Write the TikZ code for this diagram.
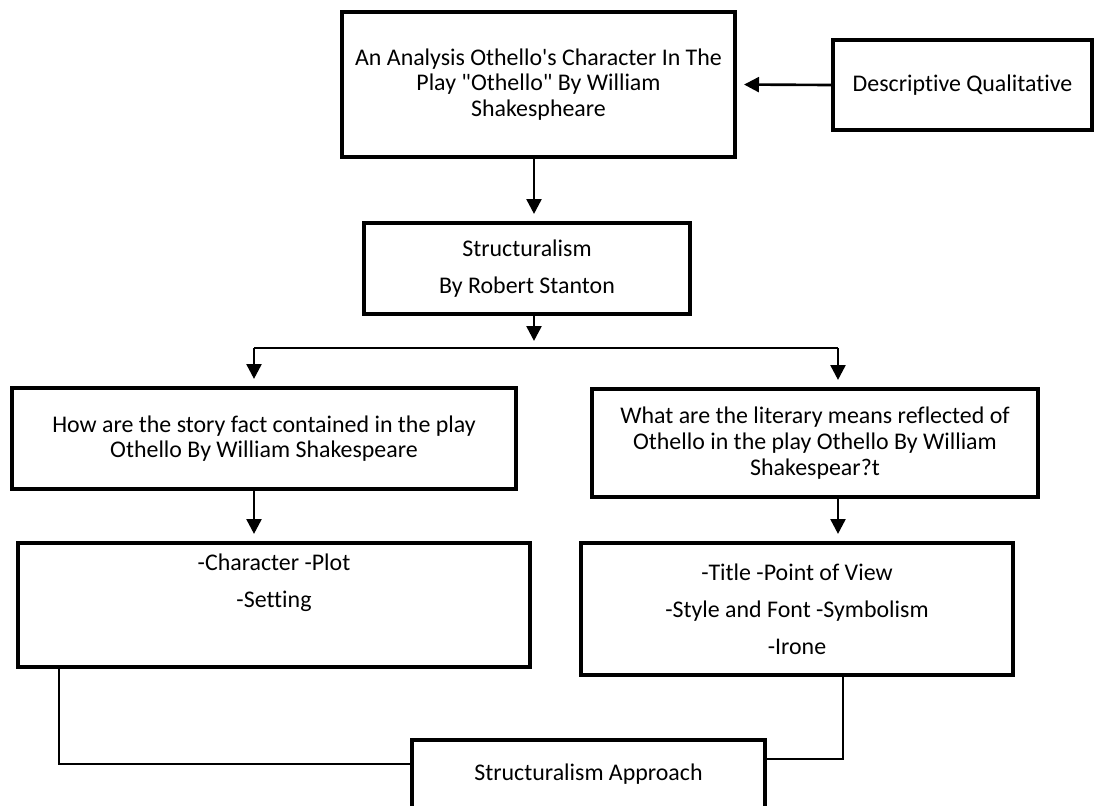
\documentclass[tikz,border=0pt]{standalone}
\usepackage{fontspec}
\setmainfont{Carlito}[Ligatures={TeXOff,CommonOff}]
\usetikzlibrary{arrows.meta}
\begin{document}
\begin{tikzpicture}[
    box/.style={draw,line width=2.3pt,align=center,inner sep=0pt,font=\fontsize{13.6}{14.6}\selectfont},
    listbox/.style={box,font=\fontsize{13.6}{21}\selectfont},
    arr/.style={line width=1.5pt,-{Triangle[width=8.5pt,length=8.5pt]},shorten >=4pt},
    link/.style={line width=1.1pt}
]
    \useasboundingbox (0,0) rectangle (21.9,-16.1);
    \node[box,minimum width=7.86cm,minimum height=2.9cm] (A) at (10.77,-1.69) {An Analysis Othello's Character In The\\ Play "Othello" By William\\ Shakespheare};
    \node[box,minimum width=5.18cm,minimum height=1.8cm] (D) at (19.25,-1.70) {Descriptive Qualitative};
    \node[listbox,minimum width=6.52cm,minimum height=1.82cm] (B) at (10.54,-5.37) {Structuralism\\ By Robert Stanton};
    \node[box,minimum width=10.08cm,minimum height=2.02cm] (C1) at (5.28,-8.77) {How are the story fact contained in the play\\ Othello By William Shakespeare};
    \node[box,minimum width=8.92cm,minimum height=2.16cm] (C2) at (16.30,-8.86) {What are the literary means reflected of\\ Othello in the play Othello By William\\ Shakespear?t};
    \node[listbox,minimum width=10.24cm,minimum height=2.48cm] (E1) at (5.48,-12.10) {-Character -Plot\\ -Setting\\ \strut};
    \node[listbox,minimum width=8.64cm,minimum height=2.64cm] (E2) at (15.94,-12.18) {-Title -Point of View\\ -Style and Font -Symbolism\\ -Irone};
    \node[box,minimum width=7.06cm,minimum height=1.36cm] (F) at (11.77,-15.48) {Structuralism Approach};
    % split line
    \coordinate (sl) at (5.08,-6.96);
    \coordinate (sr) at (16.76,-6.96);
    \draw[line width=1.5pt] (sl) -- (sr);
    \draw[arr] (D.west) -- (A.east);
    \draw[arr] ([xshift=-0.09cm]A.south) -- ([xshift=-0.09cm]A.south |- B.north);
    \draw[arr] ([xshift=0.14cm]B.south) -- ([xshift=0.14cm]B.south |- sl);
    \draw[arr] (sl) -- (sl |- C1.north);
    \draw[arr] (sr) -- (sr |- C2.north);
    \draw[arr] (sl |- C1.south) -- (sl |- E1.north);
    \draw[arr] (sr |- C2.south) -- (sr |- E2.north);
    \draw[link] ([xshift=-4.3cm]E1.south) |- ([yshift=0.2cm]F.west);
    \draw[link] ([xshift=0.92cm]E2.south) |- ([yshift=0.3cm]F.east);
\end{tikzpicture}
\end{document}
